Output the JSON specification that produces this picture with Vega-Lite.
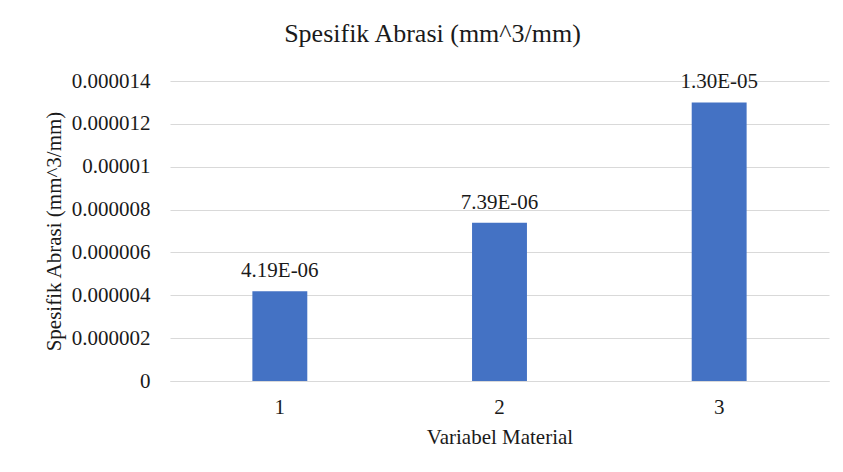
{
  "$schema": "https://vega.github.io/schema/vega-lite/v6.json",
  "width": 659,
  "height": 300,
  "autosize": "none",
  "padding": {"left": 170, "top": 81, "right": 14, "bottom": 91},
  "background": "white",
  "config": {
    "font": "Liberation Serif",
    "view": {"stroke": null},
    "axis": {"labelFont": "Liberation Serif", "titleFont": "Liberation Serif"},
    "text": {"font": "Liberation Serif"}
  },
  "title": {
    "text": "Spesifik Abrasi (mm^3/mm)",
    "fontSize": 26,
    "fontWeight": "normal",
    "color": "#1a1a1a",
    "font": "Liberation Serif",
    "anchor": "middle",
    "offset": 23,
    "dx": -67
  },
  "data": {
    "values": [
      {"material": "1", "abrasi": 0.00000419, "label": "4.19E-06"},
      {"material": "2", "abrasi": 0.00000739, "label": "7.39E-06"},
      {"material": "3", "abrasi": 0.0000130, "label": "1.30E-05"}
    ]
  },
  "encoding": {
    "x": {
      "field": "material",
      "type": "nominal",
      "scale": {"paddingInner": 0.75, "paddingOuter": 0.375},
      "axis": {
        "title": "Variabel Material",
        "labelAngle": 0,
        "labelFont": "Liberation Serif",
        "labelFontSize": 21,
        "labelColor": "#1a1a1a",
        "labelPadding": 15,
        "ticks": false,
        "domainColor": "#d9d9d9",
        "domainWidth": 1,
        "titleFont": "Liberation Serif",
        "titleFontSize": 21,
        "titleFontWeight": "normal",
        "titleColor": "#1a1a1a",
        "titlePadding": 9
      }
    },
    "y": {
      "field": "abrasi",
      "type": "quantitative",
      "scale": {"domain": [0, 0.000014], "nice": false},
      "axis": {
        "title": "Spesifik Abrasi (mm^3/mm)",
        "values": [0, 0.000002, 0.000004, 0.000006, 0.000008, 0.00001, 0.000012, 0.000014],
        "format": ".6~f",
        "labelFont": "Liberation Serif",
        "labelFontSize": 21,
        "labelColor": "#1a1a1a",
        "labelPadding": 20,
        "ticks": false,
        "domain": false,
        "gridColor": "#d9d9d9",
        "gridWidth": 1,
        "titleFont": "Liberation Serif",
        "titleFontSize": 21,
        "titleFontWeight": "normal",
        "titleColor": "#1a1a1a",
        "titlePadding": 7
      }
    }
  },
  "layer": [
    {"mark": {"type": "bar", "color": "#4472c4"}},
    {
      "mark": {"type": "text", "baseline": "alphabetic", "dy": -14, "fontSize": 21, "font": "Liberation Serif", "color": "#1a1a1a"},
      "encoding": {"text": {"field": "label"}}
    }
  ]
}
